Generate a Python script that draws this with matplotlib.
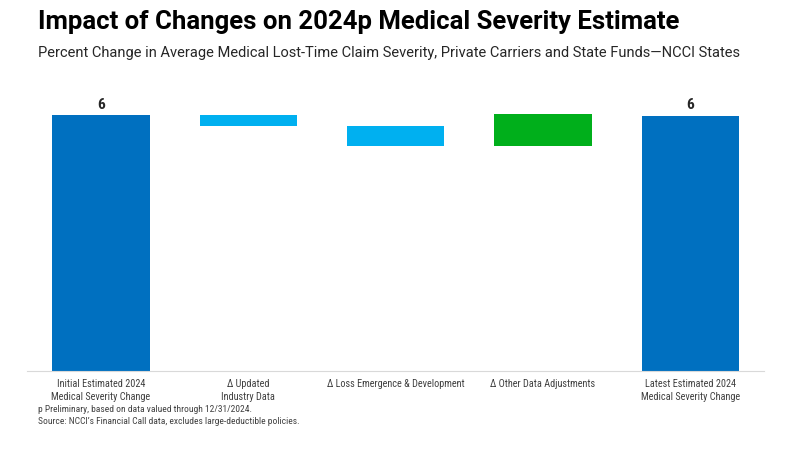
import matplotlib.pyplot as plt

# Waarden
categories = ['Initial Estimated 2024\nMedical Severity Change', '\u0394 Updated\nIndustry Data',
              '\u0394 Loss Emergence & Development', '\u0394 Other Data Adjustments',
              'Latest Estimated 2024\nMedical Severity Change']
initial_value = 6.0
deltas = [-0.26, -0.47, 0.75]
final_value = 5.98
value_labels = ['6', '6']

dark_blue = '#0070C0'
light_blue = '#00B0F0'
green = '#00AF1B'
narrow = ['Roboto Condensed', 'DejaVu Sans']
wide = ['Roboto', 'DejaVu Sans']

fig = plt.figure(figsize=(8, 4.5), dpi=100)
ax = fig.add_axes([0.034, 0.176, 0.921, 0.616])

# Begin- en eindstaaf
ax.bar(0, initial_value, width=0.66, color=dark_blue)
ax.bar(4, final_value, width=0.66, color=dark_blue)

# Tussenliggende stappen van de waterval
level = initial_value
for i, d in enumerate(deltas):
    ax.bar(i + 1, abs(d), bottom=level + d if d < 0 else level, width=0.66,
           color=green if d > 0 else light_blue)
    level += d

for x, v, lab in [(0, initial_value, value_labels[0]), (4, final_value, value_labels[1])]:
    ax.text(x, v + 0.08, lab, ha='center', va='bottom', fontsize=11, fontweight='bold',
            color='#262626', family=narrow)

ax.set_xlim(-0.5, 4.5)
ax.set_ylim(0, 6.5)
ax.set_xticks(range(5))
ax.set_xticklabels(categories, fontsize=7.4, color='#404040', family=narrow, linespacing=1.3)
ax.tick_params(axis='x', length=0, pad=6)
ax.set_yticks([])
for s in ['top', 'right', 'left']:
    ax.spines[s].set_visible(False)
ax.spines['bottom'].set_color('#D9D9D9')

fig.text(0.047, 0.951, 'Impact of Changes on 2024p Medical Severity Estimate', fontsize=18.5,
         fontweight='bold', family=wide, va='center', color='black')
fig.text(0.047, 0.882, 'Percent Change in Average Medical Lost-Time Claim Severity, Private Carriers and State Funds\u2014NCCI States',
         fontsize=10.5, family=wide, va='center', color='#262626')
fig.text(0.047, 0.077, 'p Preliminary, based on data valued through 12/31/2024.\nSource: NCCI\u2019s Financial Call data, excludes large-deductible policies.',
         fontsize=6.8, family=narrow, va='center', color='#404040', linespacing=1.38)

fig.savefig('out.png', dpi=100)
